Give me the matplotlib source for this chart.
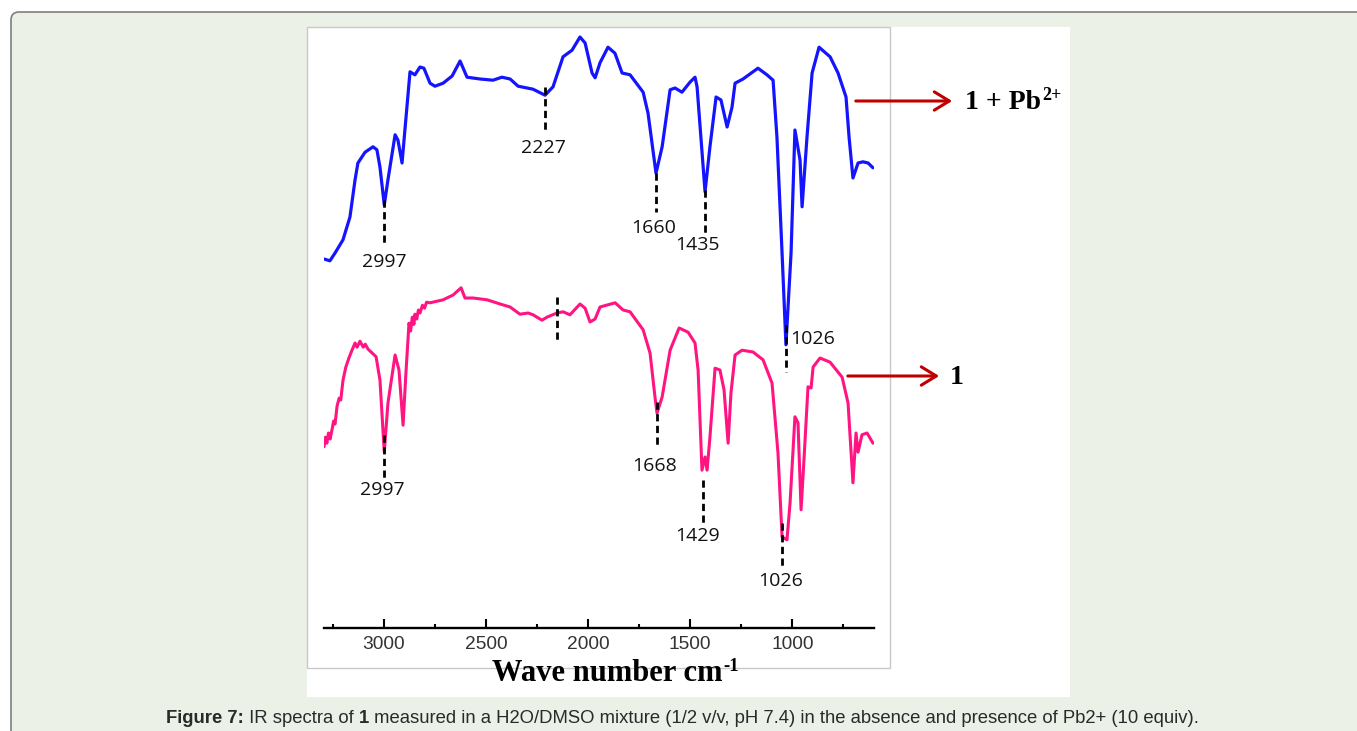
import matplotlib.pyplot as plt
import matplotlib.patches as mpatches
from matplotlib.transforms import IdentityTransform
from matplotlib.ticker import MultipleLocator

# 数据：波数 (cm-1) 与透过率 (任意单位)
blue_wn = [3292, 3263, 3238, 3199, 3165, 3140, 3126, 3091, 3052, 3033, 3018, 2997,
           2979, 2944, 2930, 2910, 2896, 2871, 2847, 2822, 2803, 2773, 2749, 2709,
           2665, 2626, 2592, 2528, 2465, 2421, 2381, 2342, 2269, 2210, 2171, 2122,
           2078, 2039, 2014, 1980, 1965, 1941, 1902, 1868, 1833, 1794, 1730, 1706,
           1667, 1637, 1598, 1574, 1540, 1500, 1476, 1466, 1427, 1403, 1373, 1349,
           1319, 1295, 1280, 1241, 1168, 1124, 1094, 1075, 1050, 1031, 1006, 987,
           962, 952, 928, 903, 869, 815, 776, 737, 722, 703, 678, 654, 629, 605]
blue_t = [61.5, 61.2, 62.5, 64.7, 68.5, 74.7, 77.5, 79.3, 80.2, 79.7, 76.8, 70.5,
          74.7, 82.2, 81.3, 77.5, 83.0, 92.7, 92.2, 93.5, 93.3, 90.8, 90.3, 90.8,
          92.0, 94.5, 91.8, 91.5, 91.3, 91.8, 91.5, 90.3, 89.8, 88.8, 90.2, 95.2,
          96.3, 98.5, 97.5, 92.5, 91.7, 94.2, 96.8, 95.8, 92.5, 92.2, 89.3, 85.8,
          75.8, 80.2, 89.7, 90.0, 89.3, 91.0, 91.8, 90.2, 72.7, 80.2, 88.5, 88.0,
          83.5, 86.8, 90.8, 91.5, 93.3, 92.2, 91.3, 81.8, 62.5, 47.2, 62.5, 83.0,
          78.0, 70.2, 81.8, 92.5, 96.8, 95.2, 92.5, 88.5, 81.8, 75.0, 77.5, 77.7, 77.5, 76.7]

pink_wn = [3292, 3285, 3278, 3270, 3262, 3253, 3245, 3238, 3228, 3218, 3210, 3199,
           3185, 3170, 3155, 3140, 3130, 3116, 3100, 3090, 3077, 3037, 3018, 2997,
           2979, 2944, 2925, 2905, 2891, 2876, 2868, 2860, 2852, 2847, 2838, 2830,
           2822, 2810, 2800, 2790, 2773, 2709, 2660, 2621, 2602, 2563, 2494, 2430,
           2381, 2333, 2293, 2269, 2225, 2201, 2152, 2122, 2088, 2039, 2014, 1990,
           1965, 1941, 1867, 1828, 1794, 1730, 1696, 1672, 1662, 1637, 1598, 1554,
           1510, 1476, 1461, 1442, 1427, 1417, 1403, 1378, 1354, 1334, 1314, 1300,
           1280, 1246, 1192, 1143, 1099, 1070, 1050, 1026, 1011, 987, 972, 957,
           942, 923, 908, 898, 864, 815, 756, 727, 703, 688, 678, 659, 634, 605]
pink_t = [30.2, 31.8, 30.8, 32.5, 31.5, 33.0, 34.5, 34.0, 37.0, 38.3, 38.0, 41.3,
          43.5, 45.0, 46.3, 47.5, 46.8, 47.8, 46.8, 47.3, 46.5, 45.2, 41.3, 29.3,
          37.5, 45.5, 43.0, 33.8, 42.5, 50.8, 49.5, 51.8, 50.6, 52.3, 51.5, 53.0,
          52.5, 53.8, 53.3, 54.3, 54.2, 54.7, 55.5, 56.7, 55.0, 55.0, 54.7, 54.0,
          53.5, 52.3, 52.5, 52.2, 51.3, 51.8, 52.5, 52.7, 52.2, 54.0, 53.3, 51.0,
          51.5, 53.5, 54.2, 53.0, 52.7, 49.7, 45.8, 38.5, 35.8, 38.5, 46.3, 50.0,
          49.3, 47.5, 43.0, 26.3, 28.5, 26.3, 31.8, 43.3, 43.0, 39.7, 30.8, 39.2,
          45.5, 46.3, 46.0, 44.7, 40.8, 29.2, 15.2, 14.7, 20.8, 35.2, 34.2, 19.7,
          28.5, 40.2, 40.0, 43.5, 45.0, 44.3, 41.8, 37.5, 24.2, 32.5, 29.3, 32.2, 32.5, 30.8]

# 峰位标注：虚线位置 (x, y上, y下)，文字与文字位置
blue_marks = [(2997, 71.3, 64.2), (2210, 90.2, 83.0), (1667, 75.8, 69.3),
              (1427, 73.0, 65.8), (1031, 50.5, 42.7)]
blue_labels = ["2997", "2227", "1660", "1435", "1026"]
blue_label_pos = [(2997, 61.0), (2220, 80.0), (1677, 66.7), (1466, 63.8), (1008, 48.2)]

pink_marks = [(2997, 32.2, 25.0), (2152, 55.2, 48.0), (1662, 37.7, 30.5),
              (1437, 24.7, 17.5), (1050, 17.5, 10.0)]
pink_labels = ["2997", "", "1668", "1429", "1026"]
pink_label_pos = [(3007, 23.0), (2152, 0), (1672, 27.0), (1466, 15.3), (1055, 7.8)]

xticks_major = [3000, 2500, 2000, 1500, 1000]

W, H = 1357, 731
fig = plt.figure(figsize=(W / 100, H / 100), dpi=100)
fig.patch.set_facecolor('white')

# 背景圆角框、白色图片区与灰色边框（像素坐标）
px = IdentityTransform()
bg = mpatches.FancyBboxPatch((11, -40), 1400, H - 12 + 40, boxstyle='round,pad=0,rounding_size=8',
                             transform=px, facecolor='#EBF1E6', edgecolor='#7F7F7F', lw=1.2,
                             zorder=-3)
fig.add_artist(bg)
fig.add_artist(mpatches.Rectangle((307, H - 697), 763, 670, transform=px,
                                  facecolor='white', edgecolor='none', zorder=-2))
fig.add_artist(mpatches.Rectangle((307, H - 668), 583, 641, transform=px,
                                  fill=False, edgecolor='#C8C8C8', lw=1, zorder=-1))

ax = fig.add_axes([324 / W, 1 - 628 / H, 550 / W, 600 / H])
ax.patch.set_alpha(0)
ax.set_xlim(3292, 600)
ax.set_ylim(0, 100)

ax.plot(blue_wn, blue_t, color='#1414FF', lw=2.3, solid_joinstyle='round', solid_capstyle='round')
ax.plot(pink_wn, pink_t, color='#FF1482', lw=2.2, solid_joinstyle='round', solid_capstyle='round')

dash = dict(color='black', lw=2.0, dashes=(2.6, 1.6))
label_font = dict(family='Open Sans', fontsize=14, color='#111111')
for (x, y1, y2), lab, (lx, ly) in zip(blue_marks, blue_labels, blue_label_pos):
    ax.plot([x, x], [y1, y2], **dash)
    ha = 'left' if lab == "1026" else 'center'
    ax.text(lx, ly, lab, ha=ha, va='center', **label_font)
for (x, y1, y2), lab, (lx, ly) in zip(pink_marks, pink_labels, pink_label_pos):
    ax.plot([x, x], [y1, y2], **dash)
    if lab:
        ax.text(lx, ly, lab, ha='center', va='center', **label_font)

# 坐标轴
for s in ['left', 'right', 'top']:
    ax.spines[s].set_visible(False)
ax.spines['bottom'].set_linewidth(1.7)
ax.set_yticks([])
ax.set_xticks(xticks_major)
ax.xaxis.set_minor_locator(MultipleLocator(250))
ax.tick_params(axis='x', which='major', direction='in', length=6.5, width=1.5, pad=6,
               labelsize=13.8, labelcolor='#333333')
ax.tick_params(axis='x', which='minor', direction='in', length=3.2, width=1.5)
for t in ax.get_xticklabels():
    t.set_family('Liberation Sans')

fig.canvas.draw()
r = fig.canvas.get_renderer()

serif = dict(family='Liberation Serif', weight='bold', color='black')


def text_with_sup(x, y, main, sup, size, sup_size, rise):
    # 主文字 + 上标（像素坐标，基线对齐）
    t = fig.text(x / W, 1 - y / H, main, ha='left', va='baseline', fontsize=size, **serif)
    w = t.get_window_extent(renderer=r).width
    if sup:
        fig.text((x + w + 1) / W, 1 - (y - rise) / H, sup, ha='left', va='baseline',
                 fontsize=sup_size, **serif)
    return w


# x 轴标题
w = fig.text(0, 0, 'Wave number cm', fontsize=22, **serif)
ww = w.get_window_extent(renderer=r).width
w.remove()
text_with_sup(607 - ww / 2, 681, 'Wave number cm', '-1', 22, 13.5, 10)

# 红色箭头与曲线名称
red = '#C00000'
for x0, x1, y in [(853, 955, 101), (845, 942, 376)]:
    fig.add_artist(mpatches.FancyArrowPatch((x0, H - y), (x1, H - y), transform=px,
                                            arrowstyle='->,head_length=0.9,head_width=0.55',
                                            mutation_scale=12, color=red, lw=2.2))
text_with_sup(965, 109, '1 + Pb', '2+', 20, 13, 9)
text_with_sup(950, 384, '1', '', 20, 13, 9)

# 图注：逐段绘制（粗体/常规）
parts = [("Figure 7:", 'bold'), (" IR spectra of ", 'normal'), ("1", 'bold'),
         (" measured in a H2O/DMSO mixture (1/2 v/v, pH 7.4) in the absence and presence of Pb2+ (10 equiv).", 'normal')]
x = 166
for s, wt in parts:
    t = fig.text(x / W, 1 - 723 / H, s, ha='left', va='baseline', family='Liberation Sans',
                 weight=wt, fontsize=13.3, color='#2A2A2A')
    x += t.get_window_extent(renderer=r).width

fig.savefig('out.png', dpi=100, facecolor='white')
